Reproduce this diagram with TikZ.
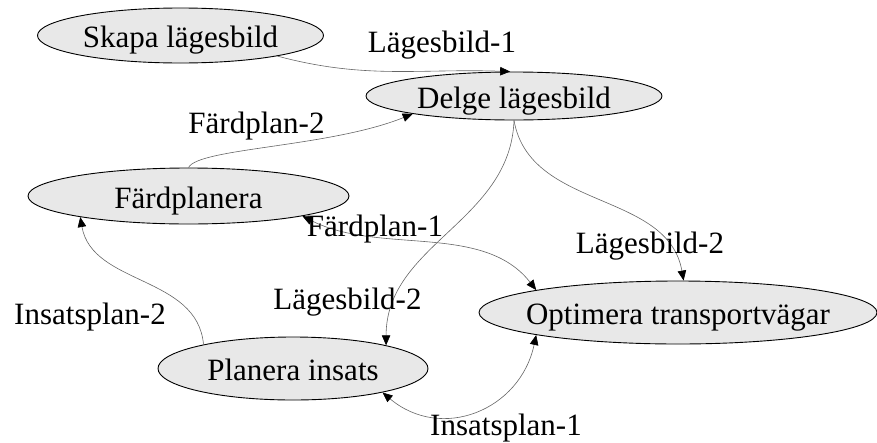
\documentclass[tikz,border=0pt]{standalone}
\usepackage{fontspec}
\setmainfont{Liberation Serif}
\usetikzlibrary{arrows.meta, shapes.geometric}
\tikzset{
  activity/.style={
    draw,
    ellipse,
    line width=0.9pt,
    fill=black!9,
    inner sep=0pt,
    inner xsep=-45pt,
    text height=24pt,
    text depth=0pt,
    font=\fontsize{31}{36}\selectfont
  },
  flow/.style={
    draw=black!60,
    line width=0.6pt,
    ->
  },
  flowtag/.style={
    anchor=base,
    inner sep=0pt,
    font=\fontsize{31}{36}\selectfont
  }
}

\begin{document}
\begin{tikzpicture}[x=1pt, y=1pt, >={Triangle[length=10pt, width=8.5pt, color=black]}]
  \useasboundingbox (0,0) rectangle (877,-442);

  \node[activity, minimum width=286pt, minimum height=55pt] (skapa) at (180.5,-35.5) {Skapa lägesbild};
  \node[activity, minimum width=296pt, minimum height=48pt] (delge) at (514,-96) {Delge lägesbild};
  \node[activity, minimum width=321pt, minimum height=56pt] (fard) at (188.5,-196) {Färdplanera};
  \node[activity, minimum width=398pt, minimum height=63pt] (optim) at (678,-312.5) {Optimera transportvägar};
  \node[activity, minimum width=270pt, minimum height=63pt] (planera) at (293,-368.5) {Planera insats};

  \draw[flow] (skapa.-12) to[out=-15, in=178] (delge.99);
  \draw[flow] (fard.north) to[out=63, in=202, out distance=22pt, in distance=89pt] (delge.190);
  \draw[flow] (delge.south) to[out=-92, in=90] (planera.14);
  \draw[flow] (delge.south) to[out=-80, in=100] (optim.80);
  \draw[flow, <->] (fard.-10) to[out=-27, in=128, looseness=0.9] (optim.171);
  \draw[flow] (planera.165) to[out=95, in=-80] (fard.191);
  \draw[flow, <->] (planera.-15) to[out=-40, in=-102, looseness=1.2] (optim.189);

  \node[flowtag] (lb1) at (442,-52) {Lägesbild-1};
  \node[flowtag] (fp2) at (256.5,-133) {Färdplan-2};
  \node[flowtag] (fp1) at (375,-236) {Färdplan-1};
  \node[flowtag] (lb2o) at (650,-253) {Lägesbild-2};
  \node[flowtag] (lb2p) at (347.5,-309) {Lägesbild-2};
  \node[flowtag] (ip2) at (90,-324) {Insatsplan-2};
  \node[flowtag] (ip1) at (506,-435) {Insatsplan-1};
\end{tikzpicture}
\end{document}
